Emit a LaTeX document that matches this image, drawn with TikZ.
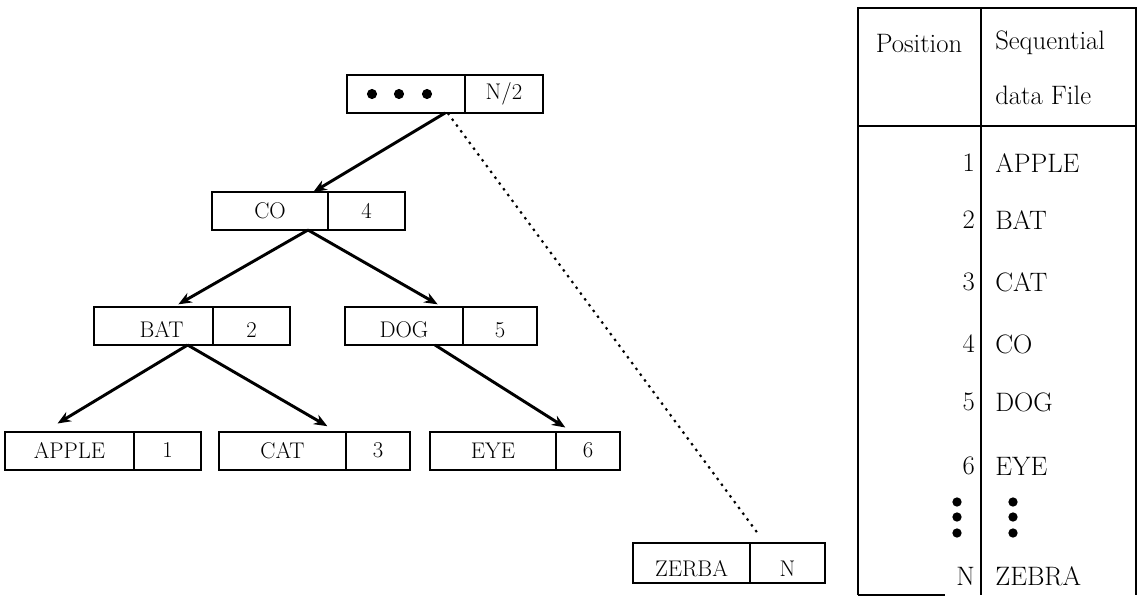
\documentclass[tikz,border=0pt]{standalone}
\usetikzlibrary{arrows.meta}
\begin{document}
\begin{tikzpicture}[x=0.75pt,y=-0.75pt,
  cell/.style={draw, line width=1.5pt, outer sep=0pt, minimum width=#1*0.75pt,
    minimum height=28.5pt, inner sep=0pt, font=\fontsize{17}{20}\selectfont},
  low/.style={text height=17pt, text depth=0pt},
  link/.style={line width=2.2pt, -{Stealth[length=10pt,width=8pt]}},
  dotline/.style={line width=1.6pt, dash pattern=on 1.8pt off 3.6pt},
  tab/.style={line width=1.2pt},
  tt/.style={font=\fontsize{20}{24}\selectfont, inner sep=0pt}]
\useasboundingbox (0,0) rectangle (1139,603);

% tree nodes
\node[cell=118] (rootL) at (406,94) {};
\node[cell=78, anchor=west] (rootR) at (rootL.east) {N/2};
\foreach \dx in {-34,-7,21} \fill ([xshift=\dx*0.75pt]rootL.center) circle (3.8pt);

\node[cell=116] (coL) at (270,211) {CO};
\node[cell=77, anchor=west] (coR) at (coL.east) {4};

\node[cell=119, low] (batL) at (153.5,326) {\hspace{12pt}BAT};
\node[cell=77, low, anchor=west] (batR) at (batL.east) {2};

\node[cell=118, low] (dogL) at (404,326) {DOG};
\node[cell=74, low, anchor=west] (dogR) at (dogL.east) {5};

\node[cell=129] (appleL) at (69.5,450.5) {APPLE};
\node[cell=67, anchor=west] (appleR) at (appleL.east) {1};

\node[cell=127] (catL) at (282.5,450.5) {CAT};
\node[cell=64, anchor=west] (catR) at (catL.east) {3};

\node[cell=126] (eyeL) at (493,450.5) {EYE};
\node[cell=64, anchor=west] (eyeR) at (eyeL.east) {6};

\node[cell=117, minimum height=30pt, text height=20pt, text depth=0pt] (zerbaL) at (691.5,563) {ZERBA\hspace{10pt}};
\node[cell=75, minimum height=30pt, text height=20pt, text depth=0pt, anchor=west] (zerbaR) at (zerbaL.east) {N};

% connectors
\draw[link] ([xshift=-15pt]rootL.south east) -- ([xshift=-11pt]coL.north east);
\draw[link] ([xshift=-15pt]coL.south east) -- ([xshift=-26pt,yshift=2pt]batL.north east);
\draw[link] ([xshift=-15pt]coL.south east) -- ([xshift=-19pt,yshift=2pt]dogL.north east);
\draw[link] ([xshift=-19pt]batL.south east) -- ([xshift=-9pt,yshift=6pt]appleL.north);
\draw[link] ([xshift=-19pt]batL.south east) -- ([xshift=-14pt,yshift=4pt]catL.north east);
\draw[link] ([xshift=-21pt]dogL.south east) -- ([xshift=7pt,yshift=3pt]eyeL.north east);
\draw[dotline] ([xshift=-13pt]rootL.south east) -- ([xshift=6pt,yshift=7pt]zerbaR.north west);

% table
\draw[tab] (858,595) -- (858,8) -- (1136,8) -- (1136,595);
\draw[tab] (981,8) -- (981,595);
\draw[tab] (858,126) -- (1136,126);
\draw[tab] (858,595) -- (945,595);

\node[tt] (hpos) at (919,43) {Position};
\node[tt, anchor=west] (hseq) at (995,43) {Sequential};
\node[tt, anchor=west] (hdat) at (995,95) {data File};

\node[tt, anchor=east] (p1) at (975,163) {1};
\node[tt, anchor=west] (f1) at (995,163) {APPLE};
\node[tt, anchor=east] (p2) at (975,220) {2};
\node[tt, anchor=west] (f2) at (995,220) {BAT};
\node[tt, anchor=east] (p3) at (975,282) {3};
\node[tt, anchor=west] (f3) at (995,282) {CAT};
\node[tt, anchor=east] (p4) at (975,344) {4};
\node[tt, anchor=west] (f4) at (995,344) {CO};
\node[tt, anchor=east] (p5) at (975,402) {5};
\node[tt, anchor=west] (f5) at (995,402) {DOG};
\node[tt, anchor=east] (p6) at (975,466) {6};
\node[tt, anchor=west] (f6) at (995,466) {EYE};
\foreach \yy in {502,517,533} {
  \fill (957,\yy) circle (3.5pt);
  \fill (1013,\yy) circle (3.5pt);
}
\node[tt, anchor=east] (pN) at (975,576) {N};
\node[tt, anchor=west] (fN) at (995,576) {ZEBRA};
\end{tikzpicture}
\end{document}
